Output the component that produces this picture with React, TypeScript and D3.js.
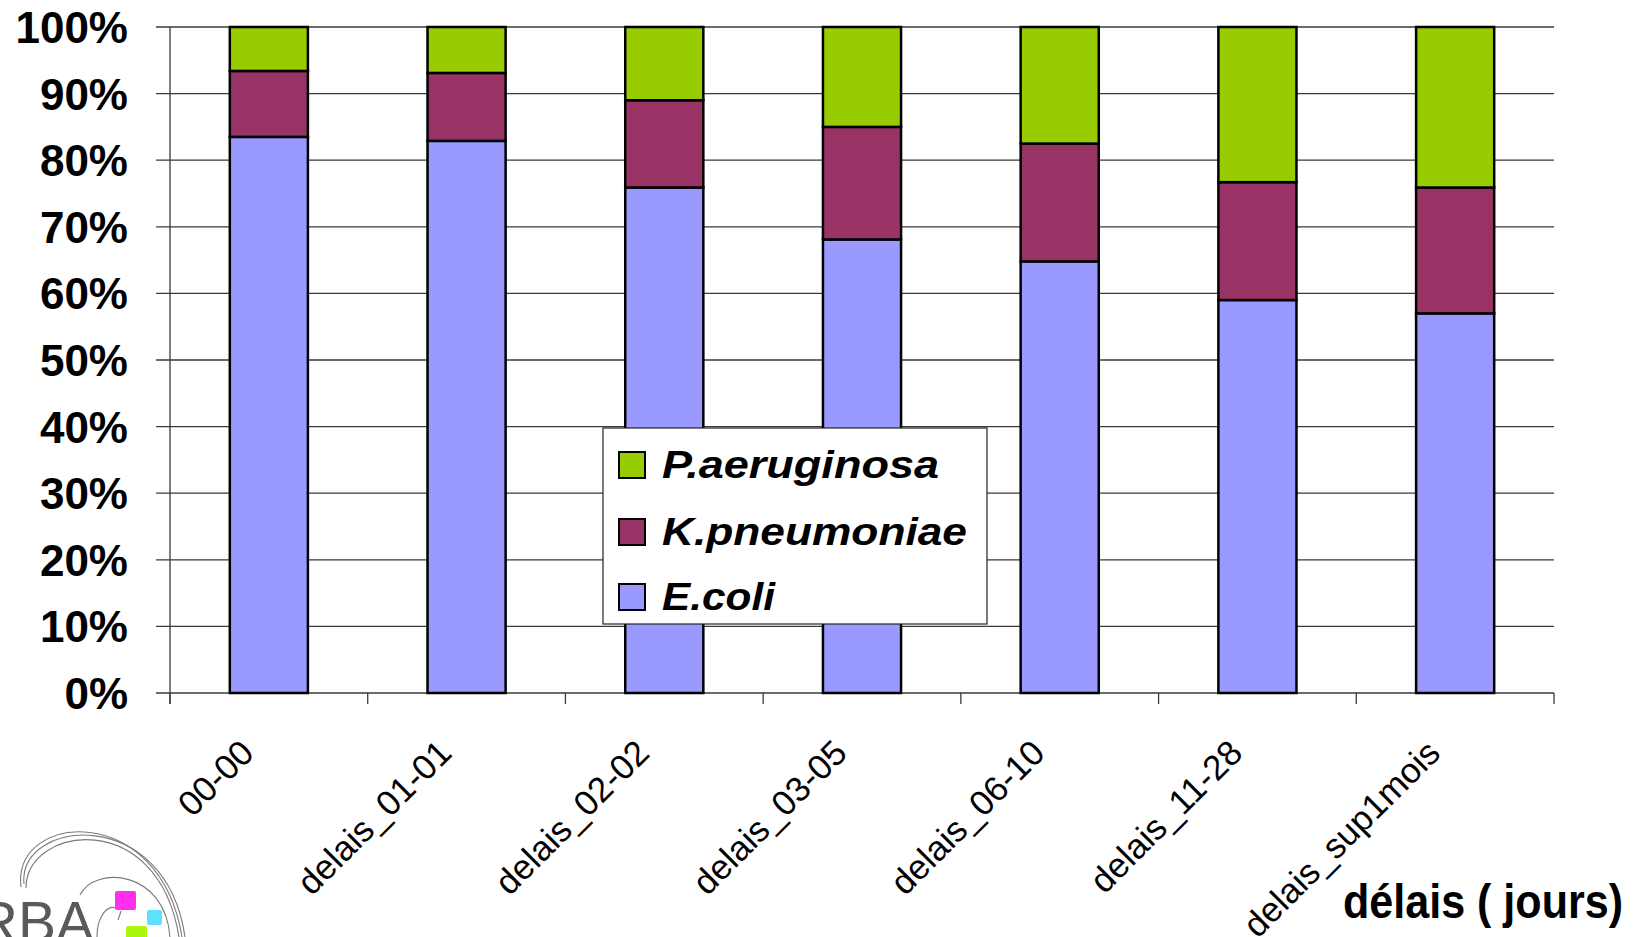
import React, { useEffect } from "react";
import * as d3 from "d3";

const categories = [
  "delais_00-00",
  "delais_01-01",
  "delais_02-02",
  "delais_03-05",
  "delais_06-10",
  "delais_11-28",
  "delais_sup1mois",
];
const ecoli = [83.5, 82.9, 75.9, 68.1, 64.8, 59.0, 57.0];
const kpneumoniae = [9.9, 10.2, 13.1, 16.9, 17.7, 17.7, 18.9];
const paeruginosa = [6.6, 6.9, 11.0, 15.0, 17.5, 23.3, 24.1];
const seriesKeys = ["ecoli", "kpneumoniae", "paeruginosa"];
const seriesLabels = ["E.coli", "K.pneumoniae", "P.aeruginosa"];
const seriesColors = ["#9999ff", "#993366", "#99cc00"];
const yTicks = [0, 10, 20, 30, 40, 50, 60, 70, 80, 90, 100];
const xTitle = "délais ( jours)";

const W = 1633;
const H = 937;
const plot = { left: 170, right: 1554, top: 27, bottom: 693 };

export default function App() {
  useEffect(() => {
    document.body.style.margin = "0";
    document.body.style.overflow = "hidden";
  }, []);

  const rows = categories.map((c, i) => ({
    cat: c,
    ecoli: ecoli[i],
    kpneumoniae: kpneumoniae[i],
    paeruginosa: paeruginosa[i],
  }));
  const stacked = d3.stack<any>().keys(seriesKeys)(rows);

  const x = d3
    .scaleBand<string>()
    .domain(categories)
    .range([plot.left, plot.right])
    .padding(0);
  const y = d3.scaleLinear().domain([0, 100]).range([plot.bottom, plot.top]);
  const step = x.step();
  const barW = step * 0.395;
  const boundaries = d3.range(categories.length + 1).map((i) => plot.left + i * step);

  const font = "'Liberation Sans', Arial, sans-serif";

  const legendItems = [2, 1, 0];
  const legendBaselines = [478, 545, 610];
  const legendWidths = [277, 305, 113];

  return (
    <svg
      width={W}
      height={H}
      style={{ position: "absolute", left: 0, top: 0, background: "#fff" }}
      fontFamily={font}
    >
      <rect x={0} y={0} width={W} height={H} fill="#fff" />
      {yTicks.map((t) => (
        <line
          key={"g" + t}
          x1={156}
          x2={plot.right}
          y1={y(t)}
          y2={y(t)}
          stroke="#3a3a3a"
          strokeWidth={1.3}
        />
      ))}
      <line x1={plot.left} x2={plot.left} y1={plot.top} y2={704} stroke="#3a3a3a" strokeWidth={1.3} />
      {boundaries.map((bx, i) => (
        <line key={"xt" + i} x1={bx} x2={bx} y1={plot.bottom} y2={704} stroke="#3a3a3a" strokeWidth={1.3} />
      ))}
      {yTicks.map((t) => (
        <text
          key={"yl" + t}
          x={128}
          y={y(t) + 16}
          textAnchor="end"
          fontSize={44}
          fontWeight="bold"
          fill="#000"
        >
          {t + "%"}
        </text>
      ))}
      {stacked.map((s, si) =>
        s.map((d, i) => (
          <rect
            key={"b" + si + "-" + i}
            x={(x(categories[i]) as number) + (step - barW) / 2}
            y={y(d[1])}
            width={barW}
            height={y(d[0]) - y(d[1])}
            fill={seriesColors[si]}
            stroke="#000"
            strokeWidth={2.5}
          />
        ))
      )}
      {categories.map((c) => {
        const cx = (x(c) as number) + step / 2 - 13;
        const ay = 755;
        return (
          <text
            key={"xl" + c}
            x={cx}
            y={ay}
            textAnchor="end"
            fontSize={35}
            fill="#000"
            transform={`rotate(-45, ${cx}, ${ay})`}
          >
            {c}
          </text>
        );
      })}
      <rect x={603} y={428} width={384} height={196} fill="#fff" stroke="#222" strokeWidth={1.2} />
      {legendItems.map((si, k) => (
        <g key={"lg" + si}>
          <rect
            x={619}
            y={legendBaselines[k] - 26}
            width={26}
            height={26}
            fill={seriesColors[si]}
            stroke="#000"
            strokeWidth={2}
          />
          <text
            x={662}
            y={legendBaselines[k]}
            fontSize={39}
            fontWeight="bold"
            fontStyle="italic"
            textLength={legendWidths[k]}
            lengthAdjust="spacingAndGlyphs"
            fill="#000"
          >
            {seriesLabels[si]}
          </text>
        </g>
      ))}
      <text
        x={1343}
        y={918}
        fontSize={49}
        fontWeight="bold"
        textLength={280}
        lengthAdjust="spacingAndGlyphs"
        fill="#000"
      >
        {xTitle}
      </text>
      <rect x={0} y={821} width={228} height={H - 821} fill="#fff" />
      <g fill="none" stroke="#7a7a7a" strokeWidth={1.1}>
        <path d="M 21 887 C 12 812, 160 800, 182 937" />
        <path d="M 26 888 C 26 826, 158 806, 179 937" />
        <path d="M 24 884 C 18 818, 166 804, 185 937" />
        <path d="M 80 895 C 95 865, 165 870, 170 937" />
        <path d="M 97 937 C 97 915, 108 905, 116 908" />
        <path d="M 121 911 L 118 920" />
      </g>
      <text x={94} y={942} textAnchor="end" fontSize={57} fill="#5a5a5a">
        RBA
      </text>
      <rect x={115} y={891} width={21} height={19} rx={2} fill="#ff2ef0" />
      <rect x={147} y={910} width={15} height={15} rx={2} fill="#5ce1ff" />
      <rect x={126} y={926} width={21} height={15} rx={2} fill="#aaf70e" />
    </svg>
  );
}
